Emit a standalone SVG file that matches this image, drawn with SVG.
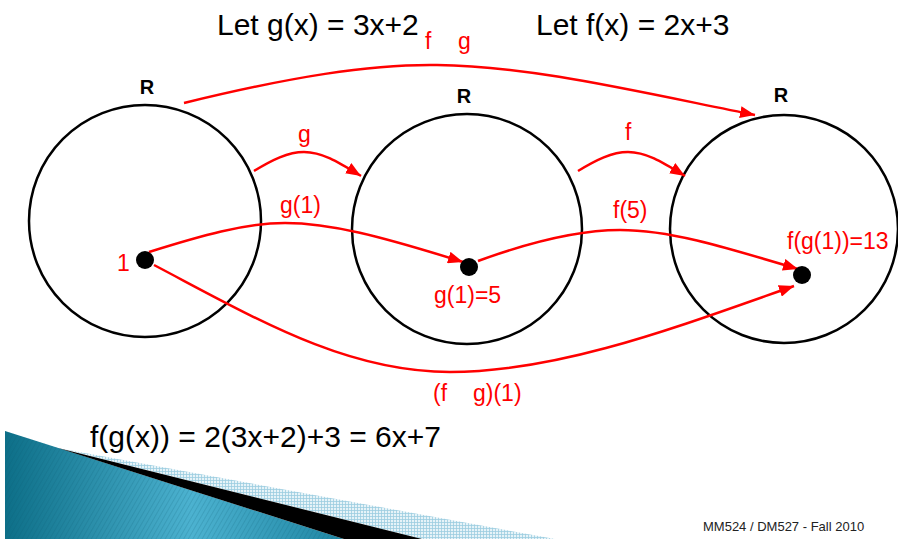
<svg xmlns="http://www.w3.org/2000/svg" width="898" height="539" viewBox="0 0 898 539">
<style>
.ring{fill:none;stroke:#000;stroke-width:2.5}
.dot{fill:#000}
.con{fill:none;stroke:#ff0000;stroke-width:2.5;marker-end:url(#ah)}
.lbl{font-family:"Liberation Sans",Arial,sans-serif;font-size:23px;fill:#ff0000}
.R{font-family:"Liberation Sans",Arial,sans-serif;font-size:20px;font-weight:bold;fill:#000;text-anchor:middle}
.big{font-family:"Liberation Sans",Arial,sans-serif;font-size:30px;fill:#000}
.foot{font-family:"Liberation Sans",Arial,sans-serif;font-size:13px;fill:#222}
</style>
<defs>
<marker id="ah" markerUnits="userSpaceOnUse" markerWidth="16" markerHeight="12" refX="15" refY="6" orient="auto">
<path d="M0,0 L15,6 L0,12 z" fill="#ff0000"/>
</marker>
<linearGradient id="teal" x1="0" y1="0" x2="1" y2="0">
<stop offset="0" stop-color="#0d6f88"/>
<stop offset="0.55" stop-color="#4cb2d0"/>
<stop offset="1" stop-color="#1f86a3"/>
</linearGradient>
<pattern id="stripes" width="4" height="4" patternUnits="userSpaceOnUse" patternTransform="rotate(30)">
<line x1="0" y1="0" x2="0" y2="4" stroke="#0a5c72" stroke-width="1" opacity="0.35"/>
</pattern>
<pattern id="grid" width="3" height="3" patternUnits="userSpaceOnUse">
<rect width="3" height="3" fill="#e6f3f8"/>
<path d="M0,0.5 H3 M0.5,0 V3" stroke="#9ccde0" stroke-width="0.8"/>
</pattern>
</defs>
<rect width="898" height="539" fill="#fff"/>

<g id="decoration">
<polygon points="63,449 555,539 422,539" fill="url(#grid)"/>
<polygon points="5,431 5,539 344,539" fill="url(#teal)"/>
<polygon points="5,431 5,539 344,539" fill="url(#stripes)"/>
<polygon points="58,448 422,539 344,539" fill="#000"/>
</g>

<g id="title">
<text class="big" x="217" y="35">Let g(x) = 3x+2</text>
<text class="big" x="536" y="35">Let f(x) = 2x+3</text>
<text class="lbl" x="425" y="49">f</text>
<text class="lbl" x="458" y="49">g</text>
</g>

<g id="set1">
<circle class="ring" cx="145" cy="221" r="116"/>
<text class="R" x="147" y="94">R</text>
</g>
<g id="set2">
<circle class="ring" cx="467" cy="229" r="115"/>
<text class="R" x="464" y="103">R</text>
</g>
<g id="set3">
<circle class="ring" cx="784" cy="229" r="114"/>
<text class="R" x="781" y="102">R</text>
</g>

<g id="connectors">
<path class="con" d="M184,103 C290,77 370,64 437,65 C530,66 630,90 755,115"/>
<path class="con" d="M254,171 C272,160 288,152 304,152 C322,152 338,162 361,176"/>
<path class="con" d="M578,171 C596,160 612,152 628,152 C646,152 662,162 685,176"/>
<path class="con" d="M149,252 C200,236 245,223 285,223 C330,223 380,236 463,262"/>
<path class="con" d="M478,261 C530,242 578,230 620,230 C668,230 718,245 798,269"/>
<path class="con" d="M154,265 C255,318 345,372 450,372 C560,372 680,326 794,286"/>
</g>

<g id="point1">
<circle class="dot" cx="145" cy="260" r="9"/>
<text class="lbl" x="117" y="271">1</text>
</g>
<g id="point2">
<circle class="dot" cx="469" cy="267" r="9"/>
<text class="lbl" x="434" y="303">g(1)=5</text>
</g>
<g id="point3">
<circle class="dot" cx="802" cy="275" r="9"/>
<text class="lbl" x="787" y="249">f(g(1))=13</text>
</g>

<g id="labels">
<text class="lbl" x="298" y="142">g</text>
<text class="lbl" x="625" y="140">f</text>
<text class="lbl" x="280" y="213">g(1)</text>
<text class="lbl" x="613" y="218">f(5)</text>
<text class="lbl" x="433" y="401">(f</text>
<text class="lbl" x="473" y="401">g)(1)</text>
</g>

<text class="big" x="90" y="447">f(g(x)) = 2(3x+2)+3 = 6x+7</text>
<text class="foot" x="703" y="531">MM524 / DM527 - Fall 2010</text>
</svg>
